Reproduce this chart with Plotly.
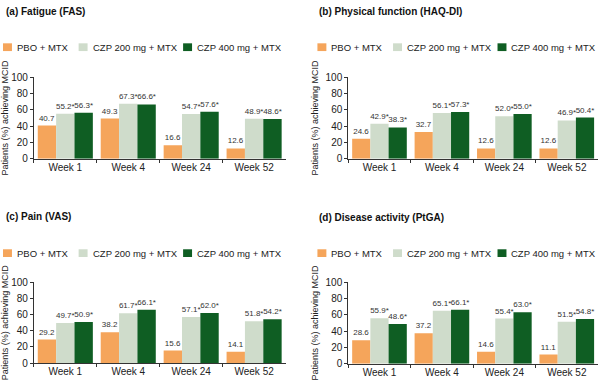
import plotly.graph_objects as go

# ---------------- data ----------------
weeks = ["Week 1", "Week 4", "Week 24", "Week 52"]
series_names = ["PBO + MTX", "CZP 200 mg + MTX", "CZP 400 mg + MTX"]
series_colors = ["#F5A55B", "#CFDCCB", "#0F5E23"]
series_star = [False, True, True]

panel_titles = ["(a) Fatigue (FAS)", "(b) Physical function (HAQ-DI)",
                "(c) Pain (VAS)", "(d) Disease activity (PtGA)"]

fas_pbo = [40.7, 49.3, 16.6, 12.6]
fas_czp200 = [55.2, 67.3, 54.7, 48.9]
fas_czp400 = [56.3, 66.6, 57.6, 48.6]

haq_pbo = [24.6, 32.7, 12.6, 12.6]
haq_czp200 = [42.9, 56.1, 52.0, 46.9]
haq_czp400 = [38.3, 57.3, 55.0, 50.4]

vas_pbo = [29.2, 38.2, 15.6, 14.1]
vas_czp200 = [49.7, 61.7, 57.1, 51.8]
vas_czp400 = [50.9, 66.1, 62.0, 54.2]

ptga_pbo = [28.6, 37.2, 14.6, 11.1]
ptga_czp200 = [55.9, 65.1, 55.4, 51.5]
ptga_czp400 = [48.6, 66.1, 63.0, 54.8]

y_ticks = [0, 20, 40, 60, 80, 100]
y_title = "Patients (%) achieving MCID"

panels_data = [
    [fas_pbo, fas_czp200, fas_czp400],
    [haq_pbo, haq_czp200, haq_czp400],
    [vas_pbo, vas_czp200, vas_czp400],
    [ptga_pbo, ptga_czp200, ptga_czp400],
]

# ---------------- layout (pixels) ----------------
W, H = 600, 390
def px(x):
    return x / W
def py(y):
    return 1 - y / H

# x0, x1, y_top(100), y_bottom(0), title_x, title_y, legend_x, legend_y
geo = [
    (31, 284, 73.5, 157.5, 1, 5.5, 0, 42.5),
    (347, 598, 73.5, 157.5, 316, 5.5, 316, 42.5),
    (31, 284, 285, 368.5, 1, 217, 0, 255),
    (347, 598, 285, 369, 316, 218, 316, 255),
]
legend_sq_off = [0, 76, 181]

FONT = "Liberation Sans, Arial, Helvetica, sans-serif"
TXT = "#222222"
AX = "#333333"

fig = go.Figure()
annotations = []
shapes = []

for i, (vals, g) in enumerate(zip(panels_data, geo)):
    x0, x1, yt, yb, tx, ty, lx, ly = g
    sfx = "" if i == 0 else str(i + 1)
    xa, ya = "x" + sfx, "y" + sfx
    for s, v in enumerate(vals):
        star = "*" if series_star[s] else ""
        labels = [f"{val:.1f}{star}" for val in v]
        fig.add_trace(go.Bar(
            x=weeks, y=v, name=series_names[s], marker_color=series_colors[s],
            marker_line_width=0, text=labels, textposition="outside",
            textfont=dict(size=8, color="#333333", family=FONT),
            constraintext="none", cliponaxis=False, showlegend=False,
            xaxis=xa, yaxis=ya, hoverinfo="skip",
        ))
    fig.layout["xaxis" + sfx] = dict(
        domain=[px(x0), px(x1)], anchor=ya, showgrid=False, showline=True,
        linecolor=AX, linewidth=1, ticks="outside", tickson="boundaries",
        ticklen=3, tickcolor=AX, tickfont=dict(size=10, color=TXT, family=FONT),
        ticklabelstandoff=-1, zeroline=False, fixedrange=True,
    )
    fig.layout["yaxis" + sfx] = dict(
        domain=[py(yb), py(yt)], anchor=xa, range=[0, 100], tickvals=y_ticks,
        showgrid=False, showline=True, linecolor=AX, linewidth=1,
        ticks="outside", ticklen=3, tickcolor=AX,
        tickfont=dict(size=10, color=TXT, family=FONT), zeroline=False,
        fixedrange=True,
        title=dict(text=y_title, font=dict(size=9, color=TXT, family=FONT), standoff=5),
    )
    annotations.append(dict(
        text=f"<b>{panel_titles[i]}</b>", x=px(tx), y=py(ty), xref="paper", yref="paper",
        xanchor="left", yanchor="middle", showarrow=False,
        font=dict(size=10, color="#111111", family=FONT),
    ))
    for s in range(3):
        sx = lx + legend_sq_off[s]
        shapes.append(dict(
            type="rect", xref="paper", yref="paper",
            x0=px(sx), x1=px(sx + 9), y0=py(ly + 4), y1=py(ly - 4),
            fillcolor=series_colors[s], line_width=0,
        ))
        annotations.append(dict(
            text=series_names[s], x=px(sx + 12), y=py(ly), xref="paper", yref="paper",
            xanchor="left", yanchor="middle", showarrow=False,
            font=dict(size=9.5, color=TXT, family=FONT),
        ))

fig.update_layout(
    width=W, height=H, autosize=False,
    margin=dict(l=0, r=0, t=0, b=0),
    paper_bgcolor="white", plot_bgcolor="white",
    barmode="group", bargap=0.125, bargroupgap=0,
    annotations=annotations, shapes=shapes,
    font=dict(family=FONT, color=TXT),
)

fig.write_html(
    "out.html",
    config={"displayModeBar": False},
    post_script="document.body.style.margin='0';document.body.style.padding='0';",
)
